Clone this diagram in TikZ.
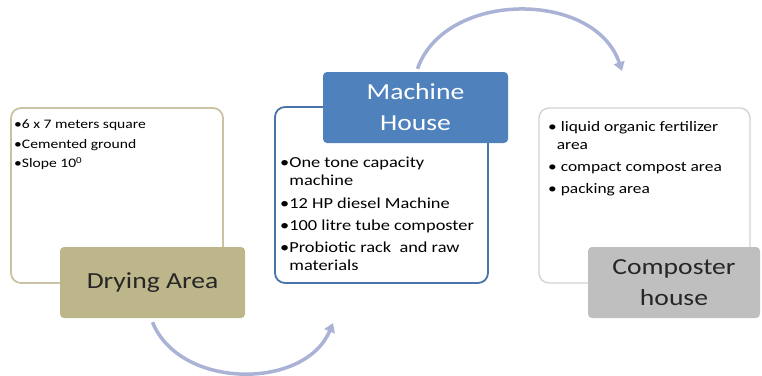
\documentclass[tikz,border=0pt]{standalone}
\usepackage{fontspec}
\setmainfont{Carlito}[FakeStretch=1.2]
\usetikzlibrary{arrows.meta}
\definecolor{tanfill}{HTML}{BDB68A}
\definecolor{tanline}{HTML}{C9C3A3}
\definecolor{bluefill}{HTML}{4F81BD}
\definecolor{blueline}{HTML}{4A74A8}
\definecolor{grayfill}{HTML}{BFBFBF}
\definecolor{grayline}{HTML}{D3D3D3}
\definecolor{arrowcol}{HTML}{AAB2D5}
\begin{document}
\begin{tikzpicture}[x=1pt,y=-1pt,
	listbox/.style={draw,fill=white,rounded corners=10pt,line width=1.8pt,inner sep=0pt},
	labelbox/.style={rounded corners=4pt,inner sep=0pt,align=center,font=\fontsize{23}{31}\selectfont},
	listtext/.style={anchor=north west,inner sep=0pt,align=left},
	cycle arrow/.style={draw=arrowcol,line width=3.5pt,-{Triangle[length=9pt,width=11pt]}}]
	\useasboundingbox (0,0) rectangle (762,375);

	% Drying Area
	\node[listbox,draw=tanline,minimum width=212pt,minimum height=175pt] (dryBox) at (117,195.5) {};
	\node[listtext,font=\fontsize{13}{19.5}\selectfont] (dryText) at (14,120)
		{\textbullet6 x 7 meters square\\ \textbullet Cemented ground\\ \textbullet Slope 10\textsuperscript{0}};
	\node[labelbox,fill=tanfill,text=black!85,minimum width=185pt,minimum height=71pt] (dryLabel) at (152.5,282.5) {Drying Area};

	% Machine House
	\node[listbox,draw=blueline,minimum width=213pt,minimum height=176pt] (machBox) at (381.5,195) {};
	\node[listtext,font=\fontsize{15.3}{18}\selectfont] (machText) at (280,157)
		{\textbullet One tone capacity\\ \phantom{\textbullet}machine\\[5pt]
		 \textbullet 12 HP diesel Machine\\[4pt]
		 \textbullet 100 litre tube composter\\[4pt]
		 \textbullet Probiotic rack\ \ and raw\\ \phantom{\textbullet}materials};
	\node[labelbox,fill=bluefill,text=white,minimum width=185pt,minimum height=71pt] (machLabel) at (415.5,107.5) {Machine\\House};

	% Composter house
	\node[listbox,draw=grayline,line width=1.4pt,minimum width=211pt,minimum height=175pt] (compBox) at (644.5,195.5) {};
	\node[listtext,font=\fontsize{14.5}{18}\selectfont] (compText) at (548,121)
		{\textbullet\ liquid organic fertilizer\\ \phantom{\textbullet}area\\[4pt]
		 \textbullet\ compact compost area\\[4pt]
		 \textbullet\ packing area};
	\node[labelbox,fill=grayfill,text=black!85,minimum width=172pt,minimum height=71pt] (compLabel) at (674,282.5) {Composter\\house};

	% Arrows
	\coordinate (topEnd) at (622,71);
	\coordinate (bottomEnd) at (333,323);
	\draw[cycle arrow] (machLabel.north) ++(2,-3) .. controls (445,-10) and (595,-10) .. (topEnd);
	\draw[cycle arrow] (dryLabel.south) ++(0,4) .. controls (180,390) and (305,390) .. (bottomEnd);
\end{tikzpicture}
\end{document}
